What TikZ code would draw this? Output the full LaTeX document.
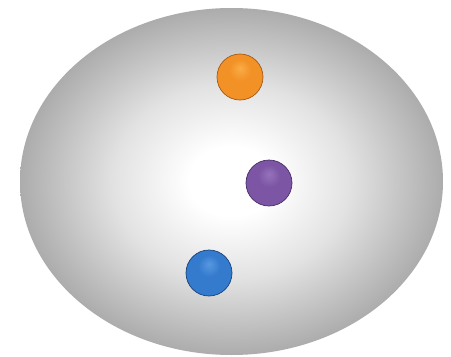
\documentclass[tikz,border=0pt]{standalone}
\usetikzlibrary{shapes.geometric}
\definecolor{edgegray}{RGB}{172,172,172}
\definecolor{midgray}{RGB}{226,226,226}
\definecolor{oL}{RGB}{250,172,70}\definecolor{oM}{RGB}{242,145,38}\definecolor{oD}{RGB}{205,110,25}\definecolor{oB}{RGB}{165,88,20}
\definecolor{pL}{RGB}{150,114,188}\definecolor{pM}{RGB}{124,86,164}\definecolor{pD}{RGB}{98,62,134}\definecolor{pB}{RGB}{72,46,102}
\definecolor{bL}{RGB}{88,152,225}\definecolor{bM}{RGB}{52,122,205}\definecolor{bD}{RGB}{38,94,165}\definecolor{bB}{RGB}{26,66,122}
\pgfdeclareradialshading{bowlshade}{\pgfpoint{0bp}{0bp}}{color(0bp)=(white); color(5bp)=(white); color(14bp)=(midgray); color(25bp)=(edgegray); color(50bp)=(edgegray)}
\pgfdeclareradialshading{orangeshade}{\pgfpoint{0bp}{10bp}}{color(0bp)=(oL); color(12bp)=(oM); color(28bp)=(oM); color(33bp)=(oD); color(50bp)=(oD)}
\pgfdeclareradialshading{purpleshade}{\pgfpoint{0bp}{10bp}}{color(0bp)=(pL); color(12bp)=(pM); color(28bp)=(pM); color(33bp)=(pD); color(50bp)=(pD)}
\pgfdeclareradialshading{blueshade}{\pgfpoint{0bp}{10bp}}{color(0bp)=(bL); color(12bp)=(bM); color(28bp)=(bM); color(33bp)=(bD); color(50bp)=(bD)}
\tikzset{
  ballnode/.style={circle, minimum size=46pt, inner sep=0pt, line width=0.7pt},
  bowlnode/.style={ellipse, minimum width=423pt, minimum height=347pt, inner sep=0pt, shading=bowlshade}
}
\begin{document}
\begin{tikzpicture}[x=1pt,y=-1pt]
\fill[white] (0,0) rectangle (451,357);
\useasboundingbox (0,0) rectangle (451,357);
\node[bowlnode] (bowl) at (231.5,181.5) {};
\node[ballnode, shading=orangeshade, draw=oB] (orange) at (240,77) {};
\node[ballnode, shading=purpleshade, draw=pB] (purple) at (269,183) {};
\node[ballnode, shading=blueshade, draw=bB] (blue) at (209,273) {};
\end{tikzpicture}
\end{document}
